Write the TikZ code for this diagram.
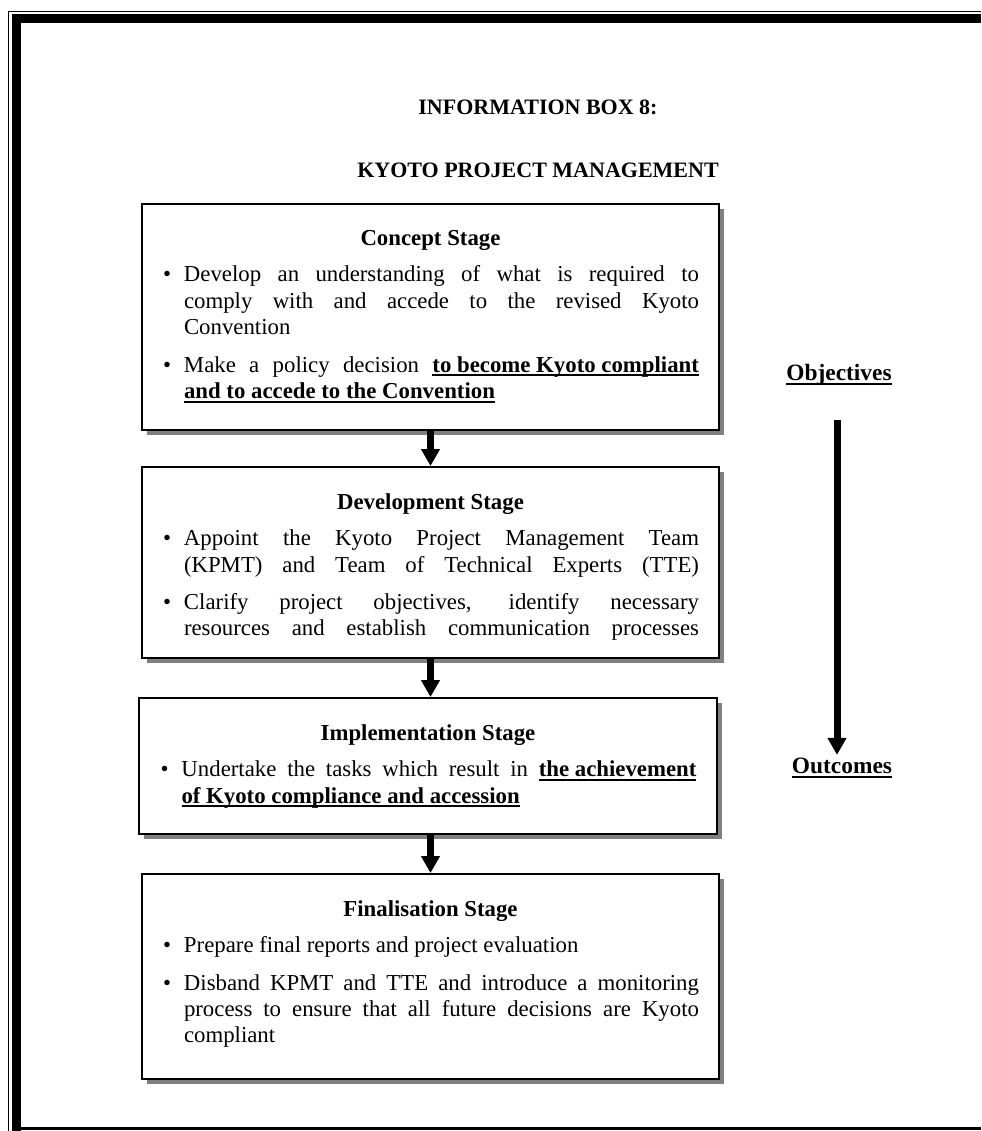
\documentclass[tikz,border=0pt]{standalone}
\usepackage{fontspec}
\setmainfont{Liberation Serif}
\usetikzlibrary{arrows.meta, shadows, positioning}

\tikzset{
  stagebox/.style={draw, line width=1pt, fill=white, inner sep=0pt,
    drop shadow={shadow xshift=2.5pt, shadow yshift=-2.5pt, fill=black!50, opacity=1}},
  stagetext/.style={inner sep=0pt, text width=268.5pt, align=justify,
    font=\fontsize{11.4}{13.2}\selectfont},
  headline/.style={inner sep=0pt, font=\fontsize{11}{13}\selectfont\bfseries},
  sidelabel/.style={inner sep=0pt, font=\fontsize{11.7}{13.25}\selectfont\bfseries},
  flow/.style={line width=3.5pt, -{Triangle[width=9pt,length=8.5pt]}},
}
\newcommand{\stagehead}[1]{{\centering\textbf{#1}\par}\vspace{5pt}}
\newcommand{\stageitem}{\par\noindent\hangindent=11pt\hangafter=0\llap{\textbullet\hspace{6.5pt}}}
\newcommand{\stageul}[1]{\setbox0\hbox{#1}\rlap{\rule[-2pt]{\wd0}{0.9pt}}\box0}

\begin{document}
\begin{tikzpicture}[x=0.5pt, y=-0.5pt]
\useasboundingbox (0,0) rectangle (981,1131);

% frame
\draw[line width=0.6pt] (8.7,1131) -- (8.7,11.7) -- (981,11.7);
\draw[line width=4.4pt] (16.4,1131) -- (16.4,18.3) -- (981,18.3);
\draw[line width=1.6pt] (12,1128.4) -- (981,1128.4);

% title
\node[headline] (boxno) at (538,107) {INFORMATION BOX 8:};
\node[headline] (boxtitle) at (538,170) {KYOTO PROJECT MANAGEMENT};

% stages
\node[stagebox, minimum width=288.5pt, minimum height=113pt, anchor=north west] (concept) at (141,203) {};
\node[stagebox, minimum width=288.5pt, minimum height=95.5pt, anchor=north west] (develop) at (141,466) {};
\node[stagebox, minimum width=289pt, minimum height=68pt, anchor=north west] (implement) at (138,697) {};
\node[stagebox, minimum width=288.5pt, minimum height=102.5pt, anchor=north west] (final) at (141,873) {};

\node[stagetext, below=13.5pt of concept.north] (concepttext) {%
\stagehead{Concept Stage}
\stageitem Develop an understanding of what is required to\linebreak comply with and accede to the revised Kyoto\linebreak Convention\par\vspace{5.5pt}
\stageitem Make a policy decision \stageul{\textbf{to become Kyoto compliant}}\linebreak \stageul{\textbf{and to accede to the Convention}}\par};

\node[stagetext, below=13.5pt of develop.north] (developtext) {%
\stagehead{Development Stage}
{\parfillskip=0pt
\stageitem Appoint the Kyoto Project Management Team\linebreak (KPMT) and Team of Technical Experts (TTE)\par\vspace{5.5pt}
\stageitem Clarify project objectives, identify necessary\linebreak resources and establish communication processes\par}};

\node[stagetext, below=13.5pt of implement.north] (implementtext) {%
\stagehead{Implementation Stage}
\stageitem Undertake the tasks which result in \stageul{\textbf{the achievement}}\linebreak \stageul{\textbf{of Kyoto compliance and accession}}\par};

\node[stagetext, below=13.5pt of final.north] (finaltext) {%
\stagehead{Finalisation Stage}
\stageitem Prepare final reports and project evaluation\par\vspace{5.5pt}
\stageitem Disband KPMT and TTE and introduce a monitoring\linebreak process to ensure that all future decisions are Kyoto\linebreak compliant\par};

\draw[flow] (concept) -- (develop);
\draw[flow] (develop.south) -- (develop.south |- implement.north);
\draw[flow] (implement.south -| final.north) -- (final.north);

% objectives to outcomes
\node[sidelabel] (objectives) at (839,375) {\stageul{Objectives}};
\node[sidelabel] (outcomes) at (842,768) {\stageul{Outcomes}};
\draw[flow, shorten <=17pt, shorten >=1.5pt] (objectives.south -| 837,0) -- (outcomes.north -| 837,0);

\end{tikzpicture}
\end{document}
